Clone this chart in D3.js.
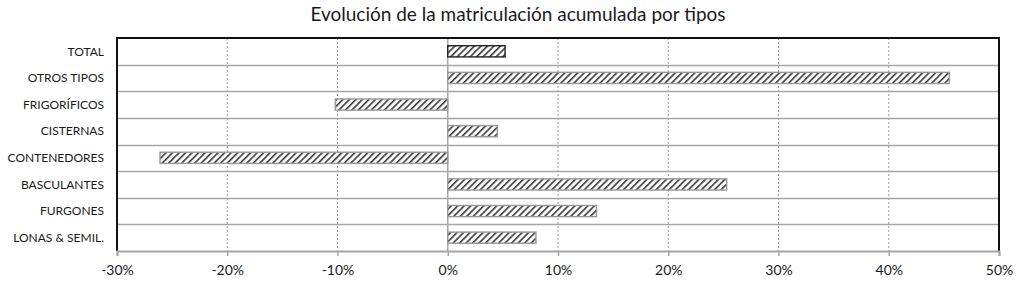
<!DOCTYPE html>
<html>
<head>
<meta charset="utf-8">
<script src="https://cdn.jsdelivr.net/npm/d3@7"></script>
<style>
  html, body { margin: 0; padding: 0; background: #fff; }
  #chart { width: 1024px; height: 290px; }
</style>
</head>
<body>
<div id="chart"></div>
<script>
/* Evolución de la matriculación acumulada por tipos — horizontal bars */

// ── Data ─────────────────────────────────────────────
const categories = ['TOTAL', 'OTROS TIPOS', 'FRIGORÍFICOS', 'CISTERNAS',
  'CONTENEDORES', 'BASCULANTES', 'FURGONES', 'LONAS & SEMIL.'];
const values = [0.052, 0.455, -0.102, 0.045, -0.261, 0.253, 0.135, 0.080];
const xTicks = [-0.3, -0.2, -0.1, 0, 0.1, 0.2, 0.3, 0.4, 0.5];
const title = 'Evolución de la matriculación acumulada por tipos';

const data = categories.map((c, i) => ({ label: c, value: values[i] }));

const width = 1024, height = 290;
const margin = { top: 38, right: 25, bottom: 39, left: 117 };
const W = width - margin.left - margin.right;
const H = height - margin.top - margin.bottom;
const font = 'Lato, "Open Sans", sans-serif';

const svg = d3.select('#chart').append('svg')
  .attr('width', width).attr('height', height);

// hatch pattern
const defs = svg.append('defs');
const pat = defs.append('pattern')
  .attr('id', 'hatch')
  .attr('patternUnits', 'userSpaceOnUse')
  .attr('width', 4.6).attr('height', 4.6)
  .attr('patternTransform', 'rotate(45)');
pat.append('rect').attr('width', 4.6).attr('height', 4.6).attr('fill', '#fff');
pat.append('line')
  .attr('x1', 0).attr('y1', 0).attr('x2', 0).attr('y2', 4.6)
  .attr('stroke', '#3a3a3a').attr('stroke-width', 3.2);

svg.append('text')
  .attr('x', 518).attr('y', 21)
  .attr('text-anchor', 'middle')
  .attr('font-family', font).attr('font-size', 19)
  .attr('fill', '#1a1a1a')
  .text(title);

const g = svg.append('g').attr('transform', `translate(${margin.left},${margin.top})`);

// ── Scales ───────────────────────────────────────────
const x = d3.scaleLinear().domain([-0.3, 0.5]).range([0, W]);
const y = d3.scaleBand().domain(categories).range([0, H]).padding(0);
const barH = y.bandwidth() * 0.42;

// vertical dotted gridlines
g.append('g')
  .selectAll('line')
  .data(xTicks.filter(t => t !== 0 && t !== -0.3 && t !== 0.5))
  .join('line')
  .attr('x1', d => x(d)).attr('x2', d => x(d))
  .attr('y1', 0).attr('y2', H)
  .attr('stroke', '#999').attr('stroke-width', 1)
  .attr('stroke-dasharray', '2,2');

// horizontal category gridlines
g.append('g')
  .selectAll('line')
  .data(categories.slice(1))
  .join('line')
  .attr('x1', 0).attr('x2', W)
  .attr('y1', d => Math.round(y(d)) + 0.5).attr('y2', d => Math.round(y(d)) + 0.5)
  .attr('stroke', '#a6a6a6').attr('stroke-width', 1.5);

// zero line
g.append('line')
  .attr('x1', x(0)).attr('x2', x(0)).attr('y1', 0).attr('y2', H)
  .attr('stroke', '#a6a6a6').attr('stroke-width', 1.5);

// ── Bars ─────────────────────────────────────────────
g.selectAll('.bar')
  .data(data)
  .join('rect')
  .attr('class', 'bar')
  .attr('x', d => x(Math.min(0, d.value)))
  .attr('width', d => Math.abs(x(d.value) - x(0)))
  .attr('y', d => y(d.label) + (y.bandwidth() - barH) / 2)
  .attr('height', barH)
  .attr('fill', 'url(#hatch)')
  .attr('stroke', d => d.label === 'TOTAL' ? '#222' : '#999')
  .attr('stroke-width', 1.4);

// ── Frame ────────────────────────────────────────────
g.append('path')
  .attr('d', `M0,${H}V0H${W}V${H}`)
  .attr('fill', 'none').attr('stroke', '#111').attr('stroke-width', 2);

// ── X axis ───────────────────────────────────────────
g.append('g')
  .attr('transform', `translate(0,${H})`)
  .call(d3.axisBottom(x).tickValues(xTicks).tickSize(5).tickPadding(9)
    .tickFormat(d3.format('.0%')))
  .call(a => a.select('.domain').attr('stroke', '#a6a6a6').attr('stroke-width', 2))
  .call(a => a.selectAll('.tick line').attr('stroke', '#a6a6a6').attr('stroke-width', 1.5))
  .call(a => a.selectAll('.tick text')
    .attr('fill', '#1a1a1a').attr('font-family', font).attr('font-size', 14)
    .text(d => d3.format('.0%')(d).replace('−', '-')));

// ── Y labels ─────────────────────────────────────────
g.append('g')
  .selectAll('text')
  .data(categories)
  .join('text')
  .attr('x', -13)
  .attr('y', d => y(d) + y.bandwidth() / 2)
  .attr('dy', '0.35em')
  .attr('text-anchor', 'end')
  .attr('font-family', font).attr('font-size', 12)
  .attr('fill', '#1a1a1a')
  .text(d => d);
</script>
</body>
</html>
